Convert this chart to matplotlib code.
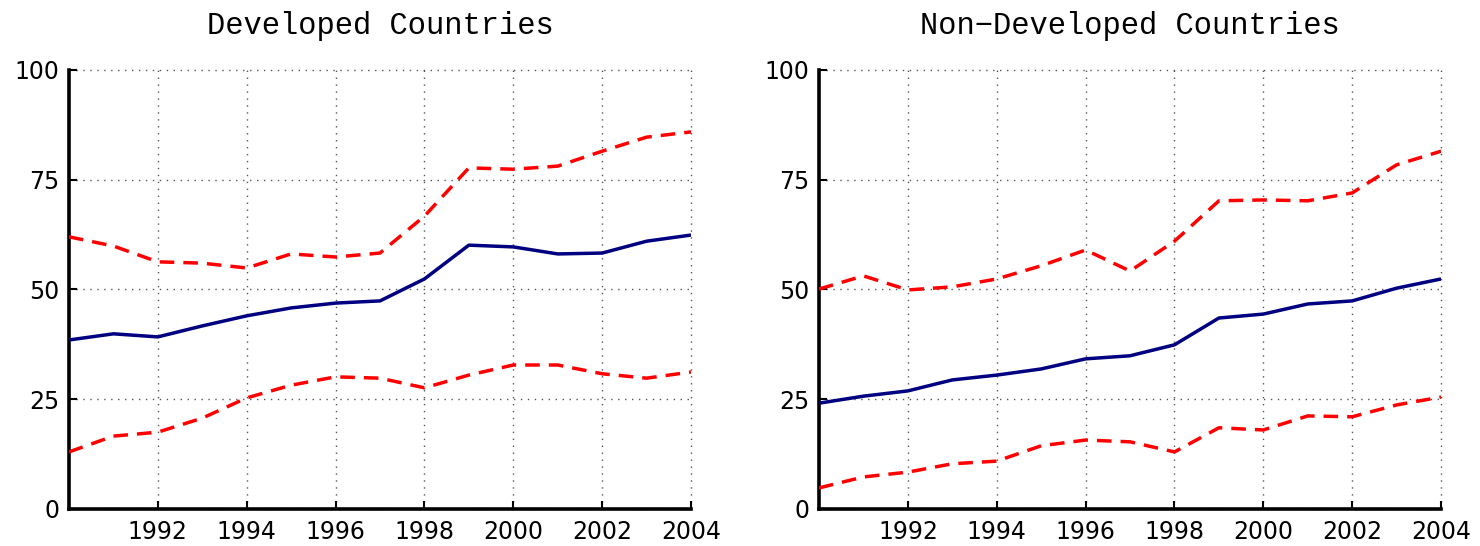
import matplotlib
matplotlib.use("Agg")
import matplotlib.pyplot as plt

years = list(range(1990, 2005))

dev_mean = [38.5, 39.9, 39.2, 41.7, 44.0, 45.8, 46.9, 47.4, 52.4, 60.1, 59.7, 58.1, 58.3, 61.0, 62.4]
dev_upper = [62.0, 59.9, 56.3, 56.0, 54.9, 58.1, 57.4, 58.3, 66.7, 77.7, 77.4, 78.1, 81.5, 84.7, 85.9]
dev_lower = [13.0, 16.6, 17.5, 20.7, 25.3, 28.2, 30.1, 29.8, 27.6, 30.5, 32.8, 32.8, 30.8, 29.8, 31.2]

ndev_mean = [24.1, 25.7, 26.9, 29.4, 30.5, 31.9, 34.2, 34.9, 37.4, 43.5, 44.4, 46.7, 47.4, 50.3, 52.4]
ndev_upper = [50.1, 53.1, 49.9, 50.6, 52.4, 55.4, 59.0, 54.2, 61.0, 70.2, 70.4, 70.2, 72.0, 78.4, 81.5]
ndev_lower = [4.8, 7.3, 8.4, 10.3, 10.9, 14.4, 15.7, 15.3, 13.0, 18.5, 18.0, 21.2, 21.0, 23.7, 25.5]

titles = ["Developed Countries", "Non\u2212Developed Countries"]
xticks = [1992, 1994, 1996, 1998, 2000, 2002, 2004]
yticks = [0, 25, 50, 75, 100]

fig = plt.figure(figsize=(14.8, 5.46), dpi=100)
positions = [[0.0466, 0.0678, 0.4203, 0.804], [0.5534, 0.0678, 0.4203, 0.804]]
data = [(dev_mean, dev_upper, dev_lower), (ndev_mean, ndev_upper, ndev_lower)]

for pos, title, (m, u, l) in zip(positions, titles, data):
    ax = fig.add_axes(pos)
    ax.plot(years, m, color="#000080", lw=2.5, solid_capstyle="butt", zorder=3)
    for s in (u, l):
        ax.plot(years, s, color="#ff0000", lw=2.5, linestyle=(0, (4.2, 2.6)), zorder=3)
    ax.set_xlim(1990, 2004)
    ax.set_ylim(0, 100)
    ax.set_xticks(xticks)
    ax.set_yticks(yticks)
    ax.tick_params(direction="in", length=6, width=1.5, labelsize=17, pad=7)
    ax.tick_params(axis="x", pad=8)
    for sp in ("top", "right"):
        ax.spines[sp].set_visible(False)
    for sp in ("left", "bottom"):
        ax.spines[sp].set_linewidth(2.6)
    ax.grid(True, linestyle=(0, (1, 4)), color="#555555", lw=1.0)
    for gl in ax.get_xgridlines() + ax.get_ygridlines():
        gl.set_clip_on(False)
    ax.set_title(title, family="Liberation Mono", fontsize=22, pad=26)

fig.savefig("out.png", dpi=100)
